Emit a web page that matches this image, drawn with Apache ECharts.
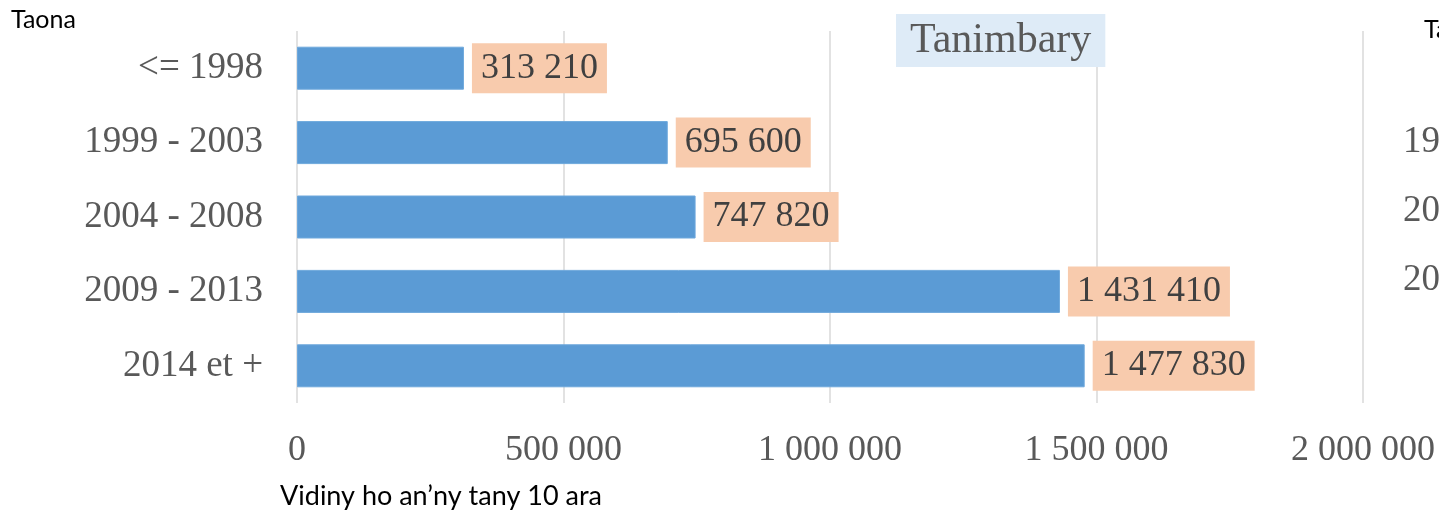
<!DOCTYPE html>
<html>
<head>
<meta charset="utf-8">
<style>
  html, body { margin: 0; padding: 0; background: #ffffff; }
  #chart { width: 1439px; height: 516px; }
</style>
<script src="https://cdn.jsdelivr.net/npm/echarts@6/dist/echarts.min.js"></script>
</head>
<body>
<div id="chart"></div>
<script>
// Land price (10 ares) by year of acquisition
const categories = ['<= 1998', '1999 - 2003', '2004 - 2008', '2009 - 2013', '2014 et +'];
const prices = [313210, 695600, 747820, 1431410, 1477830];
const axisMax = 2000000;
const axisStep = 500000;

// Labels of the neighbouring chart, cut off at the right edge
const sideLabels = ['1999 - 2003', '2004 - 2008', '2009 - 2013'];

const serif = '"Liberation Serif", "Times New Roman", serif';
const sans = 'Lato, "Open Sans", sans-serif';

function spaced(v) {
  return String(v).replace(/\B(?=(\d{3})+(?!\d))/g, ' ');
}

const chart = echarts.init(document.getElementById('chart'), null, { renderer: 'canvas' });

const sideTexts = sideLabels.map((t, i) => ({
  type: 'text',
  left: 1403,
  top: 124 + i * 69,
  style: { text: t, font: '37px ' + serif, fill: '#595959' }
}));

chart.setOption({
  animation: false,
  backgroundColor: '#ffffff',
  title: {
    text: 'Tanimbary',
    left: 896,
    top: 14,
    backgroundColor: '#deebf7',
    padding: [5, 14, 5, 14],
    textStyle: { fontFamily: serif, fontSize: 42, fontWeight: 'normal', color: '#595959', lineHeight: 43 }
  },
  grid: { left: 297, right: 76, top: 31, bottom: 113, containLabel: false },
  xAxis: {
    type: 'value',
    min: 0,
    max: axisMax,
    interval: axisStep,
    axisLine: { show: false },
    axisTick: { show: false },
    splitLine: { show: true, lineStyle: { color: '#d9d9d9', width: 1.5 } },
    axisLabel: {
      margin: 30,
      fontFamily: serif,
      fontSize: 36,
      color: '#595959',
      formatter: spaced
    }
  },
  yAxis: {
    type: 'category',
    inverse: true,
    data: categories,
    axisLine: { show: false },
    axisTick: { show: false },
    axisLabel: { margin: 34, padding: [5, 0, 0, 0], fontFamily: serif, fontSize: 37, color: '#595959' }
  },
  series: [{
    type: 'bar',
    data: prices,
    barWidth: 43,
    itemStyle: { color: '#5b9bd5', borderColor: '#6ea8dc', borderWidth: 1 },
    label: {
      show: true,
      position: 'right',
      distance: 8,
      fontFamily: serif,
      fontSize: 36,
      color: '#404040',
      backgroundColor: '#f8cbad',
      padding: [7, 9, 7, 9],
      formatter: p => spaced(p.value)
    }
  }],
  graphic: [
    { type: 'text', left: 11, top: 7, style: { text: 'Taona', font: '25px ' + sans, fill: '#000000' } },
    { type: 'text', left: 280, top: 483, style: { text: 'Vidiny ho an\u2019ny tany 10 ara', font: '27px ' + sans, fill: '#000000' } },
    { type: 'text', left: 1424, top: 17, style: { text: 'Taona', font: '25px ' + sans, fill: '#000000' } }
  ].concat(sideTexts)
});
</script>
</body>
</html>
